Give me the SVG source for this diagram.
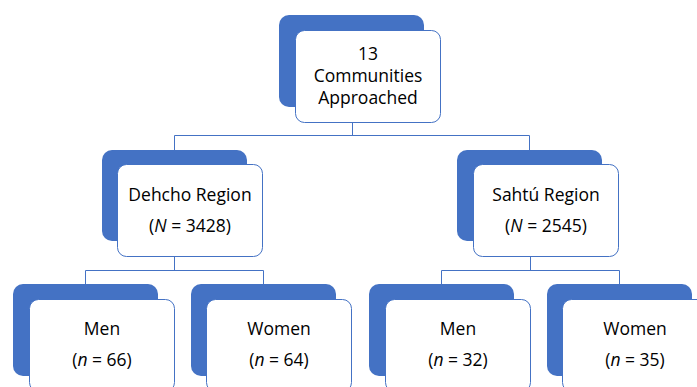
<svg xmlns="http://www.w3.org/2000/svg" width="697" height="387" viewBox="0 0 697 387">
<style>
.back{fill:#4472C4;}
.front{fill:#FFFFFF;stroke:#4472C4;stroke-width:1;}
.conn{fill:none;stroke:#4472C4;stroke-width:1;}
text{font-family:"Open Sans","Liberation Sans",sans-serif;font-size:17.5px;fill:#000000;text-anchor:middle;}
</style>
<rect width="697" height="387" fill="#FFFFFF"/>
<g id="connectors">
<path class="conn" d="M352.5,123 V135.5 M174.5,150 V135.5 H529.5 V150"/>
<path class="conn" d="M174.5,257 V270.5 M85.5,284 V270.5 H263.5 V284"/>
<path class="conn" d="M530.5,257 V270.5 M441.5,284 V270.5 H619.5 V284"/>
</g>
<g id="top">
<rect class="back" x="279" y="15" width="145" height="92" rx="10"/>
<rect class="front" x="295.5" y="30.5" width="145" height="92" rx="9"/>
<text x="368" y="60">13</text>
<text x="368" y="82">Communities</text>
<text x="368" y="104">Approached</text>
</g>
<g id="dehcho">
<rect class="back" x="102" y="150" width="145" height="91" rx="10"/>
<rect class="front" x="117.5" y="164.5" width="145" height="92" rx="9"/>
<text x="190" y="201">Dehcho Region</text>
<text x="190" y="232">(<tspan font-style="italic">N</tspan> = 3428)</text>
</g>
<g id="sahtu">
<rect class="back" x="457" y="150" width="145" height="91" rx="10"/>
<rect class="front" x="473.5" y="164.5" width="145" height="92" rx="9"/>
<text x="546" y="201">Sahtú Region</text>
<text x="546" y="232">(<tspan font-style="italic">N</tspan> = 2545)</text>
</g>
<g id="men-dehcho">
<rect class="back" x="13" y="284" width="145" height="92" rx="10"/>
<rect class="front" x="29.5" y="299.5" width="145" height="92" rx="9"/>
<text x="102" y="335">Men</text>
<text x="102" y="366">(<tspan font-style="italic">n</tspan> = 66)</text>
</g>
<g id="women-dehcho">
<rect class="back" x="191" y="284" width="145" height="92" rx="10"/>
<rect class="front" x="206.5" y="299.5" width="145" height="92" rx="9"/>
<text x="279" y="335">Women</text>
<text x="279" y="366">(<tspan font-style="italic">n</tspan> = 64)</text>
</g>
<g id="men-sahtu">
<rect class="back" x="369" y="284" width="145" height="92" rx="10"/>
<rect class="front" x="385.5" y="299.5" width="145" height="92" rx="9"/>
<text x="458" y="335">Men</text>
<text x="458" y="366">(<tspan font-style="italic">n</tspan> = 32)</text>
</g>
<g id="women-sahtu">
<rect class="back" x="547" y="284" width="145" height="92" rx="10"/>
<rect class="front" x="562.5" y="299.5" width="145" height="92" rx="9"/>
<text x="635" y="335">Women</text>
<text x="635" y="366">(<tspan font-style="italic">n</tspan> = 35)</text>
</g>
</svg>
